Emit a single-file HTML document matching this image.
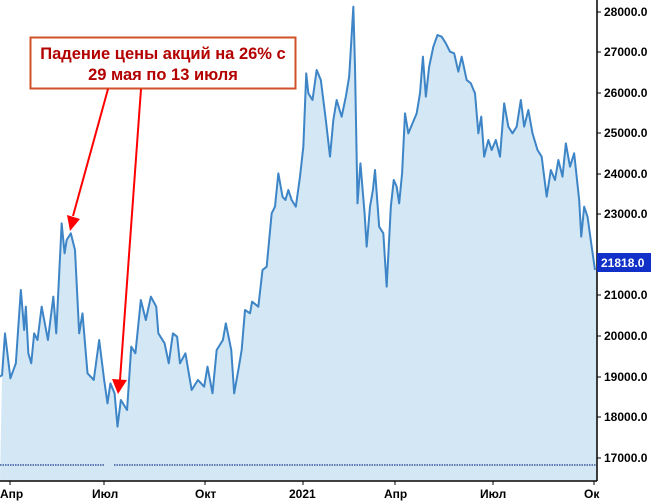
<!DOCTYPE html>
<html><head><meta charset="utf-8"><style>
html,body{margin:0;padding:0;background:#fff;}
svg{display:block;font-family:"Liberation Sans",sans-serif;}
</style></head><body>
<svg width="653" height="503" viewBox="0 0 653 503" xmlns="http://www.w3.org/2000/svg">
<rect width="653" height="503" fill="#fff"/>
<g transform="scale(0.41667,0.33333)">
<polygon fill="#d3e7f4" points="0,1440 5,1125 12,1000 25,1135 38,1090 50,870 58,990 62,920 68,1060 75,1090 82,1000 90,1020 100,920 115,1020 128,890 135,1000 148,670 155,760 160,720 170,700 180,750 190,1000 198,940 210,1120 225,1140 238,1020 250,1140 258,1210 265,1150 275,1180 282,1280 290,1200 305,1230 315,1040 325,1060 338,900 350,960 362,890 375,920 380,1000 395,1030 405,1090 415,1000 425,1010 432,1090 445,1060 460,1170 475,1140 490,1160 498,1100 510,1180 520,1050 535,1020 542,970 555,1050 562,1180 572,1110 580,1050 588,930 600,940 605,905 620,920 630,810 640,800 652,640 660,620 668,520 678,590 685,600 692,570 700,600 710,620 720,530 728,440 735,220 740,280 750,300 760,210 770,240 782,360 792,470 800,360 808,300 815,330 820,350 830,290 838,230 848,20 852,200 858,610 865,490 875,640 880,740 888,620 895,570 900,510 910,680 920,700 928,860 938,620 945,540 952,560 958,610 965,520 972,340 980,400 990,370 1000,340 1008,280 1015,170 1022,290 1030,200 1040,140 1050,105 1060,110 1070,130 1080,155 1090,160 1100,215 1108,170 1120,240 1130,250 1140,280 1148,400 1155,350 1162,470 1172,420 1180,450 1190,420 1200,470 1210,310 1220,380 1230,400 1240,380 1250,300 1258,380 1268,330 1278,400 1290,450 1300,470 1312,590 1322,510 1332,540 1340,480 1350,530 1358,430 1368,500 1378,460 1390,600 1395,710 1402,620 1410,650 1420,740 1428,810 1433,810 1433,1440"/>
<polyline fill="none" stroke="#3d85c6" stroke-width="2" vector-effect="non-scaling-stroke" stroke-linejoin="round" points="0,1130 5,1125 12,1000 25,1135 38,1090 50,870 58,990 62,920 68,1060 75,1090 82,1000 90,1020 100,920 115,1020 128,890 135,1000 148,670 155,760 160,720 170,700 180,750 190,1000 198,940 210,1120 225,1140 238,1020 250,1140 258,1210 265,1150 275,1180 282,1280 290,1200 305,1230 315,1040 325,1060 338,900 350,960 362,890 375,920 380,1000 395,1030 405,1090 415,1000 425,1010 432,1090 445,1060 460,1170 475,1140 490,1160 498,1100 510,1180 520,1050 535,1020 542,970 555,1050 562,1180 572,1110 580,1050 588,930 600,940 605,905 620,920 630,810 640,800 652,640 660,620 668,520 678,590 685,600 692,570 700,600 710,620 720,530 728,440 735,220 740,280 750,300 760,210 770,240 782,360 792,470 800,360 808,300 815,330 820,350 830,290 838,230 848,20 852,200 858,610 865,490 875,640 880,740 888,620 895,570 900,510 910,680 920,700 928,860 938,620 945,540 952,560 958,610 965,520 972,340 980,400 990,370 1000,340 1008,280 1015,170 1022,290 1030,200 1040,140 1050,105 1060,110 1070,130 1080,155 1090,160 1100,215 1108,170 1120,240 1130,250 1140,280 1148,400 1155,350 1162,470 1172,420 1180,450 1190,420 1200,470 1210,310 1220,380 1230,400 1240,380 1250,300 1258,380 1268,330 1278,400 1290,450 1300,470 1312,590 1322,510 1332,540 1340,480 1350,530 1358,430 1368,500 1378,460 1390,600 1395,710 1402,620 1410,650 1420,740 1428,810"/>
</g>
<line x1="0" y1="465" x2="104" y2="465" stroke="#1a3a8a" stroke-width="1.2" stroke-dasharray="1.5,1"/>
<line x1="114" y1="465" x2="596" y2="465" stroke="#1a3a8a" stroke-width="1.2" stroke-dasharray="1.5,1"/>
<line x1="597" y1="0" x2="597" y2="481" stroke="#000" stroke-width="1.5"/>
<line x1="0" y1="481" x2="597" y2="481" stroke="#000" stroke-width="1.5"/>
<g font-size="12" font-weight="bold" fill="#000">
<g stroke="#000"><line x1="597" y1="12" x2="601" y2="12"/><line x1="597" y1="52" x2="601" y2="52"/><line x1="597" y1="93" x2="601" y2="93"/><line x1="597" y1="133" x2="601" y2="133"/><line x1="597" y1="174" x2="601" y2="174"/><line x1="597" y1="214" x2="601" y2="214"/><line x1="597" y1="295" x2="601" y2="295"/><line x1="597" y1="336" x2="601" y2="336"/><line x1="597" y1="377" x2="601" y2="377"/><line x1="597" y1="417" x2="601" y2="417"/><line x1="597" y1="458" x2="601" y2="458"/></g>
<text x="604" y="16">28000.0</text><text x="604" y="56">27000.0</text><text x="604" y="97">26000.0</text><text x="604" y="137">25000.0</text><text x="604" y="178">24000.0</text><text x="604" y="218">23000.0</text><text x="604" y="299">21000.0</text><text x="604" y="340">20000.0</text><text x="604" y="381">19000.0</text><text x="604" y="421">18000.0</text><text x="604" y="462">17000.0</text>
<rect x="597" y="253" width="54" height="19" fill="#1030c8"/>
<text x="601" y="267" fill="#fff">21818.0</text>
<g stroke="#000"><line x1="10" y1="481" x2="10" y2="485"/><line x1="104" y1="481" x2="104" y2="485"/><line x1="205" y1="481" x2="205" y2="485"/><line x1="303" y1="481" x2="303" y2="485"/><line x1="395" y1="481" x2="395" y2="485"/><line x1="493" y1="481" x2="493" y2="485"/><line x1="594" y1="481" x2="594" y2="485"/></g>
<text x="0" y="498">Апр</text><text x="92" y="498">Июл</text><text x="195" y="498">Окт</text><text x="289" y="498">2021</text><text x="384" y="498">Апр</text><text x="480" y="498">Июл</text><text x="584" y="498">Ок</text>
</g>
<rect x="30.5" y="37.5" width="265" height="51" fill="#fff" stroke="#d0502a" stroke-width="2"/>
<g font-size="16.5" font-weight="bold" fill="#b30000" text-anchor="middle">
<text x="163" y="59">Падение цены акций на 26% с</text>
<text x="163" y="80">29 мая по 13 июля</text>
</g>
<g stroke="#ff0000" stroke-width="2"><line x1="108" y1="89" x2="73" y2="216"/><line x1="141" y1="89" x2="120" y2="380"/></g>
<polygon fill="#ff0000" points="67,215 80,219 70,231"/>
<polygon fill="#ff0000" points="112,379 127,380 118,394"/>
</svg>
</body></html>
